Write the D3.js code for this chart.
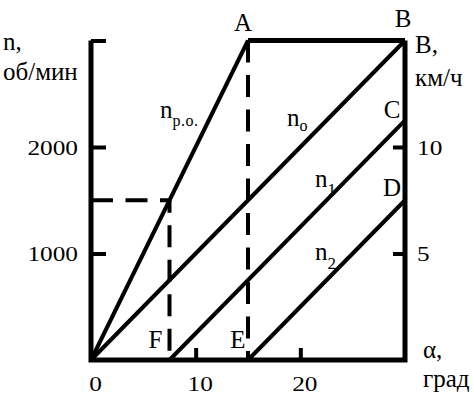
<!DOCTYPE html>
<html><head><meta charset="utf-8">
<script src="https://cdn.jsdelivr.net/npm/d3@7"></script>
</head>
<body style="margin:0"><svg id="c" width="474" height="394"></svg>
<script>
// data
const xDomain = [0, 30];          // α, град
const nDomain = [0, 3000];        // n, об/мин
const vDomain = [0, 15];          // V, км/ч
const xTicks = [0, 10, 20];
const xTickMarks = [10, 20];
const nTicks = [1000, 2000];
const vTicks = [5, 10];
const npo = [[0, 0], [15, 3000]];
const n0 = [[0, 0], [30, 3000]];
const n1 = [[7.5, 0], [30, 2250]];
const n2 = [[15, 0], [30, 1500]];
const topAB = [[15, 3000], [30, 3000]];
const dashF = [[0, 1500], [7.5, 1500], [7.5, 0]];
const dashE = [[15, 3000], [15, 0]];
const pointLabels = [
  {t:"A", x:15, y:3000, dx:-5, dy:-10},
  {t:"B", x:30, y:3000, dx:-2, dy:-14},
  {t:"C", x:30, y:2250, dx:-13, dy:-2},
  {t:"D", x:30, y:1500, dx:-13, dy:-4},
  {t:"F", x:7.5, y:0, dx:-14, dy:-12},
  {t:"E", x:15, y:0, dx:-10, dy:-12}
];

const FF = "Times New Roman";
const FS = 25, FD = 22, SX = 1.15;
const svg = d3.select("#c");
const x = d3.scaleLinear().domain(xDomain).range([91, 405]);
const y = d3.scaleLinear().domain(nDomain).range([360, 40.5]);
const yv = d3.scaleLinear().domain(vDomain).range([360, 40.5]);
const line = d3.line().x(d => x(d[0])).y(d => y(d[1]));

function stretch(sel, s) {
  sel.each(function() {
    const t = d3.select(this);
    const tx = +t.attr("x") || 0, ty = +t.attr("y") || 0;
    t.attr("x", 0).attr("y", 0).attr("transform", `translate(${tx},${ty}) scale(${s},1)`);
  });
}

// axes frame
svg.append("path").attr("d", line([[0,3000],[0,0],[30,0],[30,3000]]))
  .attr("fill","none").attr("stroke","#000").attr("stroke-width",5).attr("stroke-linejoin","miter");

// left axis
const gl = svg.append("g").attr("transform", `translate(${x(0)},0)`)
  .call(d3.axisLeft(y).tickValues(nTicks.concat([3000])).tickSize(-15).tickPadding(13).tickFormat(d => d===3000 ? "" : d));
gl.select(".domain").remove();
gl.attr("font-family", FF);
gl.selectAll("line").attr("stroke-width",4);
gl.selectAll("text").attr("font-size", FD).call(stretch, SX);

// right axis
const gr = svg.append("g").attr("transform", `translate(${x(30)},0)`)
  .call(d3.axisRight(yv).tickValues(vTicks).tickSize(-12).tickPadding(12));
gr.select(".domain").remove();
gr.attr("font-family", FF);
gr.selectAll("line").attr("stroke-width",4);
gr.selectAll("text").attr("font-size", FD).call(stretch, SX);

// bottom axis
const gb = svg.append("g").attr("transform", `translate(0,${y(0)})`)
  .call(d3.axisBottom(x).tickValues(xTicks).tickSize(-12).tickPadding(15));
gb.select(".domain").remove();
gb.attr("font-family", FF);
gb.selectAll("line").attr("stroke-width",4).attr("display", d => xTickMarks.includes(d) ? null : "none");
gb.selectAll("text").attr("font-size", FD).attr("x", 4).call(stretch, SX);

// series lines
[npo, n0, n1, n2, topAB].forEach((s,i) => {
  svg.append("path").attr("d", line(s)).attr("fill","none").attr("stroke","#000")
    .attr("stroke-width", i===4 ? 5 : 4);
});
[dashF, dashE].forEach(s => {
  svg.append("path").attr("d", line(s)).attr("fill","none").attr("stroke","#000")
    .attr("stroke-width",4).attr("stroke-dasharray","22,12.5");
});

// point labels
pointLabels.forEach(p => {
  svg.append("text").attr("x", x(p.x)+p.dx).attr("y", y(p.y)+p.dy)
    .attr("font-size",FS).attr("font-family",FF).attr("text-anchor","middle").text(p.t);
});

// series labels
function nlabel(xp, yp, sub, dy, fs) {
  const t = svg.append("text").attr("x", xp).attr("y", yp).attr("font-size",FS).attr("font-family",FF);
  t.append("tspan").text("n");
  t.append("tspan").attr("dy", dy).attr("font-size", fs).attr("letter-spacing", 0.5).text(sub);
}
nlabel(160, 118, "р.о.", 8, 16);
nlabel(287, 126, "o", 5, 16);
nlabel(315, 187, "1", 8, 17);
nlabel(315, 260, "2", 9, 17);

// axis titles
function title(xp, lines) {
  lines.forEach(l => svg.append("text").attr("x", xp).attr("y", l[1]).attr("font-size",FS).attr("font-family",FF).text(l[0]));
}
title(3, [["n,",50],["об/мин",80]]);
title(415, [["В,",53],["км/ч",86]]);
title(423, [["α,",358],["град",387]]);

svg.selectAll("text").attr("font-family", FF).attr("fill", "#000");
</script></body></html>
